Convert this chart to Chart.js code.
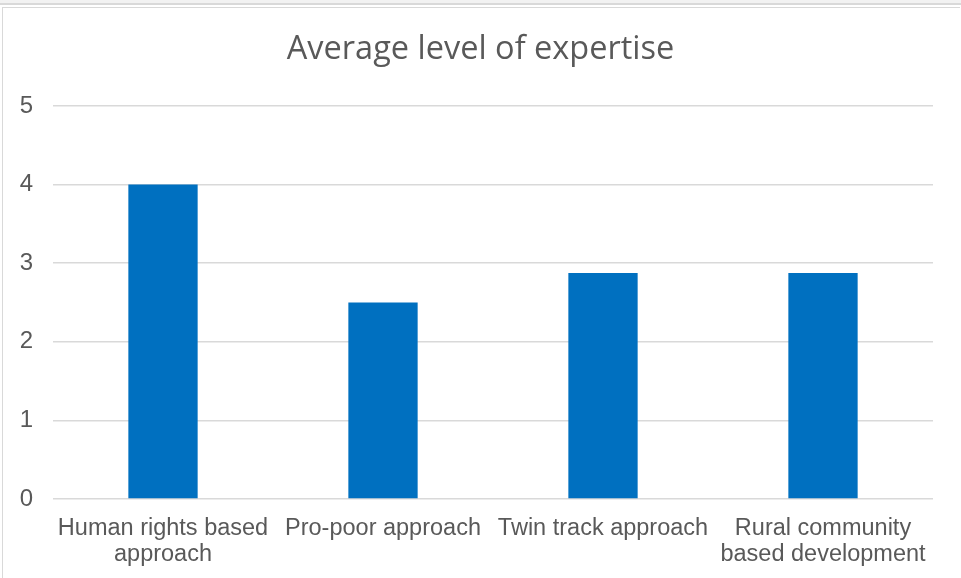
<!DOCTYPE html>
<html>
<head>
<meta charset="utf-8">
<title>Average level of expertise</title>
<script src="https://cdn.jsdelivr.net/npm/chart.js@4"></script>
<style>
  html, body { margin: 0; padding: 0; background: #fff; overflow: hidden; }
  .strip { position: absolute; left: 0; top: 0; width: 961px; height: 3px; border-bottom: 2px solid #d9d9d9; background: #f2f2f2; }
  .frame { position: absolute; left: 2px; top: 7px; width: 957px; height: 580px; border: 1px solid #d9d9d9; border-right: none; }
  #chart { position: absolute; left: 0; top: 0; }
</style>
</head>
<body>
<div class="strip"></div>
<div class="frame"></div>
<canvas id="chart" width="961" height="578"></canvas>
<script>
var categories = [
    ["Human rights based", "approach"],
    "Pro-poor approach",
    "Twin track approach",
    ["Rural community", "based development"]
];
var expertise = [4, 2.5, 2.875, 2.875];
var yTicks = [0, 1, 2, 3, 4, 5];

var labelGrey = '#595959';

var ctx = document.getElementById('chart').getContext('2d');

var chart = new Chart(ctx, {
    type: 'bar',
    data: {
        labels: categories,
        datasets: [{
            label: 'Average level of expertise',
            data: expertise,
            backgroundColor: '#0070C0',
            borderWidth: 0,
            categoryPercentage: 1,
            barPercentage: 0.315
        }]
    },
    options: {
        responsive: false,
        animation: false,
        layout: { padding: 0 },
        plugins: {
            legend: { display: false },
            tooltip: { enabled: false },
            title: {
                display: true,
                text: 'Average level of expertise',
                color: labelGrey,
                font: { family: '"Open Sans", sans-serif', size: 32.5, weight: 'normal' },
                padding: { top: 30.5, bottom: 36.5 }
            }
        },
        scales: {
            x: {
                grid: { display: false },
                border: { display: false },
                ticks: {
                    color: labelGrey,
                    font: { family: '"Liberation Sans", Arial, sans-serif', size: 23.5, lineHeight: 1.1 },
                    padding: 9,
                    maxRotation: 0,
                    autoSkip: false
                },
                afterFit: function (scale) { scale.height = 79; }
            },
            y: {
                min: 0,
                max: 5,
                afterBuildTicks: function (scale) {
                    scale.ticks = yTicks.map(function (v) { return { value: v }; });
                },
                grid: { color: '#d9d9d9', lineWidth: 1.5, drawTicks: false },
                border: { display: false },
                ticks: {
                    color: labelGrey,
                    font: { family: '"Liberation Sans", Arial, sans-serif', size: 24 },
                    padding: 20
                },
                afterFit: function (scale) { scale.width = 53; }
            },
            // empty right-hand margin so the title stays centred on the whole canvas
            yRight: {
                position: 'right',
                min: 0,
                max: 5,
                grid: { display: false },
                border: { display: false },
                ticks: { display: false },
                afterFit: function (scale) { scale.width = 28; }
            }
        }
    }
});
</script>
</body>
</html>
